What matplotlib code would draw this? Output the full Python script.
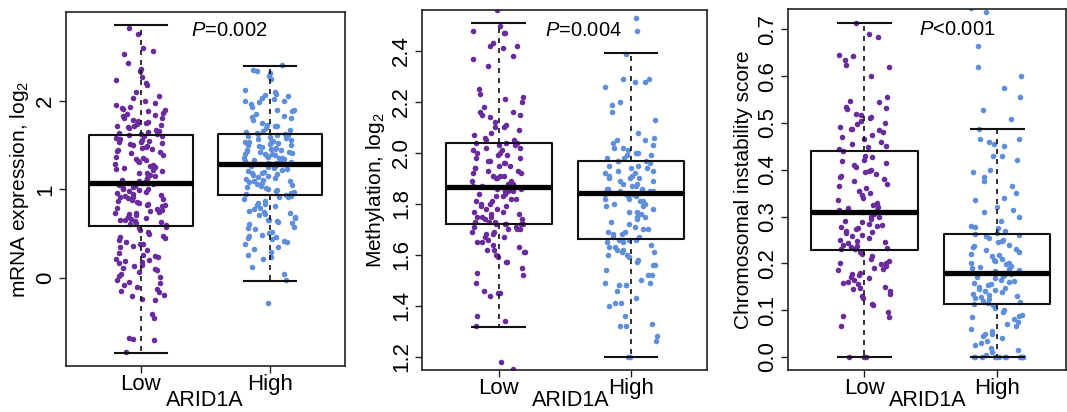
import numpy as np
import matplotlib
matplotlib.use("Agg")
import matplotlib.pyplot as plt

plt.rcParams["font.family"] = ["Liberation Sans", "DejaVu Sans"]
plt.rcParams["mathtext.fontset"] = "custom"
plt.rcParams["mathtext.rm"] = "Liberation Sans"
plt.rcParams["mathtext.it"] = "Liberation Sans:italic"

groups = ["Low", "High"]
xlabel = "ARID1A"

# ---- panel 1 : mRNA expression ----
mrna_low = [2.82, 2.75, 2.59, 2.56, 2.53, 2.42, 2.36, 2.33, 2.27, 2.23, 2.20, 2.18, 2.10, 2.05, 2.03, 2.00,
            1.97, 1.95, 1.93, 1.92, 1.91, 1.90, 1.88, 1.86, 1.85, 1.84, 1.83, 1.81, 1.80,
            1.78, 1.77, 1.76, 1.75, 1.74, 1.73, 1.72, 1.71, 1.70, 1.69, 1.67, 1.66, 1.65, 1.64, 1.63, 1.62,
            1.61, 1.60, 1.60, 1.58, 1.57, 1.56, 1.55, 1.54, 1.53, 1.52, 1.51, 1.50, 1.49, 1.48, 1.47, 1.46,
            1.45, 1.43, 1.42, 1.41, 1.39, 1.37, 1.36, 1.34, 1.33, 1.32, 1.31, 1.29, 1.27, 1.26, 1.25, 1.24,
            1.23, 1.22, 1.21, 1.19, 1.18, 1.16, 1.15, 1.13, 1.12, 1.11, 1.09, 1.08, 1.07, 1.06, 1.05, 1.04,
            1.03, 1.02, 1.01, 1.00, 0.99, 0.98, 0.97, 0.96, 0.95, 0.94, 0.93, 0.92, 0.91, 0.90, 0.89, 0.88,
            0.87, 0.86, 0.85, 0.84, 0.83, 0.82, 0.81, 0.79, 0.78, 0.77, 0.76, 0.75, 0.74, 0.73, 0.72, 0.71,
            0.69, 0.68, 0.67, 0.66, 0.65, 0.64, 0.63, 0.62, 0.61, 0.60, 0.58, 0.56, 0.54, 0.52, 0.50, 0.48,
            0.46, 0.45, 0.43, 0.41, 0.39, 0.38, 0.36, 0.35, 0.32, 0.28, 0.26, 0.25, 0.24, 0.22, 0.20, 0.19,
            0.18, 0.17, 0.15, 0.14, 0.12, 0.10, 0.09, 0.07, 0.05, 0.03, 0.01, -0.02, -0.04, -0.06, -0.08,
            -0.10, -0.12, -0.15, -0.16, -0.19, -0.20, -0.23, -0.25, -0.40, -0.45, -0.67, -0.69, -0.70, -0.83]
mrna_high = [2.40, 2.35, 2.33, 2.31, 2.28, 2.25, 2.12, 2.10, 2.08, 2.06, 2.05, 2.03, 2.02, 2.00, 2.00, 1.99,
             1.96, 1.93, 1.90, 1.89, 1.88, 1.85, 1.83, 1.82, 1.80, 1.78, 1.75, 1.73, 1.72, 1.71, 1.69, 1.67,
             1.66, 1.65, 1.64, 1.63, 1.62, 1.61, 1.61, 1.60, 1.59, 1.58, 1.57, 1.56, 1.55, 1.54, 1.53, 1.53,
             1.52, 1.51, 1.50, 1.50, 1.49, 1.48, 1.47, 1.46, 1.46, 1.45, 1.44, 1.43, 1.42, 1.42, 1.41, 1.40,
             1.40, 1.40, 1.39, 1.38, 1.37, 1.36, 1.35, 1.35, 1.34, 1.33, 1.32, 1.31, 1.31, 1.30, 1.30, 1.30,
             1.29, 1.28, 1.27, 1.26, 1.25, 1.24, 1.23, 1.22, 1.21, 1.20, 1.19, 1.18, 1.17, 1.16, 1.15, 1.14,
             1.13, 1.12, 1.11, 1.10, 1.09, 1.08, 1.07, 1.06, 1.05, 1.04, 1.03, 1.02, 1.01, 0.99, 0.98, 0.97,
             0.96, 0.95, 0.94, 0.93, 0.92, 0.91, 0.89, 0.87, 0.85, 0.84, 0.83, 0.81, 0.79, 0.78, 0.76, 0.75,
             0.74, 0.72, 0.71, 0.69, 0.68, 0.66, 0.65, 0.64, 0.63, 0.62, 0.61, 0.58, 0.57, 0.55, 0.52, 0.51,
             0.49, 0.47, 0.46, 0.45, 0.44, 0.42, 0.41, 0.38, 0.35, 0.33, 0.29, 0.26, 0.24, 0.22, 0.13, 0.05,
             -0.02, -0.28]
# box stats: whisker low, Q1, median, Q3, whisker high
mrna_box = [(-0.84, 0.587, 1.07, 1.617, 2.85), (-0.03, 0.94, 1.29, 1.625, 2.395)]

# ---- panel 2 : methylation ----
meth_low = [2.56, 2.50, 2.48, 2.47, 2.47, 2.43, 2.42, 2.42, 2.41, 2.38, 2.37, 2.34, 2.25, 2.23, 2.22, 2.21,
            2.20, 2.18, 2.16, 2.16, 2.15, 2.15, 2.14, 2.12, 2.11, 2.10, 2.10, 2.09, 2.08, 2.07, 2.06, 2.05,
            2.05, 2.04, 2.04, 2.04, 2.03, 2.03, 2.02, 2.02, 2.01, 2.01, 2.00, 2.00, 1.99, 1.99, 1.98, 1.98,
            1.97, 1.97, 1.96, 1.96, 1.95, 1.95, 1.94, 1.94, 1.93, 1.93, 1.92, 1.92, 1.91, 1.91, 1.91, 1.90,
            1.90, 1.89, 1.89, 1.88, 1.88, 1.87, 1.87, 1.87, 1.86, 1.86, 1.86, 1.85, 1.85, 1.85, 1.84, 1.84,
            1.83, 1.83, 1.82, 1.82, 1.81, 1.81, 1.80, 1.80, 1.79, 1.79, 1.78, 1.78, 1.77, 1.77, 1.76, 1.76,
            1.75, 1.75, 1.75, 1.74, 1.74, 1.73, 1.73, 1.73, 1.72, 1.72, 1.72, 1.72, 1.72, 1.71, 1.71, 1.70,
            1.70, 1.70, 1.69, 1.69, 1.68, 1.68, 1.67, 1.67, 1.66, 1.65, 1.65, 1.64, 1.63, 1.62, 1.62, 1.61,
            1.61, 1.60, 1.59, 1.57, 1.57, 1.55, 1.53, 1.52, 1.49, 1.46, 1.45, 1.45, 1.44, 1.36, 1.34, 1.32,
            1.18, 1.15]
meth_high = [2.53, 2.48, 2.39, 2.29, 2.29, 2.28, 2.28, 2.26, 2.20, 2.19, 2.16, 2.13, 2.08, 2.06, 2.05, 2.05,
             2.04, 2.03, 2.02, 2.02, 2.01, 2.00, 2.00, 1.99, 1.99, 1.98, 1.98, 1.97, 1.97, 1.97, 1.96, 1.95,
             1.95, 1.94, 1.94, 1.93, 1.93, 1.92, 1.92, 1.91, 1.91, 1.90, 1.90, 1.90, 1.89, 1.89, 1.88, 1.88,
             1.87, 1.87, 1.86, 1.86, 1.86, 1.85, 1.85, 1.85, 1.84, 1.84, 1.84, 1.83, 1.83, 1.82, 1.82, 1.81,
             1.81, 1.80, 1.80, 1.79, 1.79, 1.78, 1.77, 1.77, 1.76, 1.75, 1.75, 1.74, 1.73, 1.72, 1.71, 1.70,
             1.70, 1.69, 1.69, 1.68, 1.68, 1.67, 1.67, 1.66, 1.66, 1.66, 1.65, 1.65, 1.64, 1.63, 1.63, 1.62,
             1.62, 1.61, 1.61, 1.60, 1.60, 1.59, 1.58, 1.57, 1.56, 1.56, 1.54, 1.52, 1.52, 1.50, 1.49, 1.49,
             1.48, 1.48, 1.48, 1.46, 1.43, 1.41, 1.41, 1.40, 1.36, 1.33, 1.32, 1.32, 1.28, 1.26, 1.20, 1.20]
meth_box = [(1.318, 1.720, 1.867, 2.038, 2.51), (1.20, 1.661, 1.841, 1.968, 2.391)]

# ---- panel 3 : chromosomal instability ----
cin_low = [0.714, 0.69, 0.683, 0.645, 0.643, 0.634, 0.624, 0.62, 0.60, 0.555, 0.548, 0.545, 0.535, 0.532,
           0.53, 0.52, 0.518, 0.513, 0.51, 0.505, 0.50, 0.497, 0.492, 0.487, 0.487, 0.485, 0.48, 0.475, 0.47,
           0.465, 0.46, 0.455, 0.45, 0.448, 0.445, 0.44, 0.43, 0.428, 0.42, 0.418, 0.415, 0.41, 0.405, 0.40,
           0.398, 0.395, 0.39, 0.387, 0.385, 0.38, 0.375, 0.37, 0.365, 0.36, 0.355, 0.35, 0.345, 0.34, 0.335,
           0.33, 0.325, 0.32, 0.318, 0.315, 0.313, 0.31, 0.31, 0.308, 0.305, 0.30, 0.298, 0.295, 0.29, 0.288,
           0.285, 0.283, 0.28, 0.278, 0.275, 0.273, 0.27, 0.268, 0.265, 0.26, 0.258, 0.255, 0.25, 0.248, 0.245,
           0.243, 0.24, 0.238, 0.235, 0.233, 0.23, 0.23, 0.225, 0.22, 0.215, 0.21, 0.205, 0.20, 0.20, 0.198,
           0.195, 0.19, 0.188, 0.185, 0.18, 0.178, 0.175, 0.17, 0.168, 0.165, 0.16, 0.158, 0.155, 0.15, 0.148,
           0.145, 0.14, 0.135, 0.13, 0.125, 0.113, 0.11, 0.095, 0.088, 0.085, 0.067, 0.0, 0.0, 0.0]
cin_high = [0.745, 0.738, 0.665, 0.62, 0.60, 0.575, 0.555, 0.527, 0.508, 0.488, 0.465, 0.465, 0.46, 0.455,
            0.45, 0.43, 0.43, 0.42, 0.40, 0.395, 0.385, 0.375, 0.365, 0.35, 0.34, 0.335, 0.32, 0.315, 0.31,
            0.30, 0.29, 0.28, 0.278, 0.275, 0.27, 0.265, 0.263, 0.26, 0.258, 0.255, 0.25, 0.248, 0.245, 0.24,
            0.238, 0.235, 0.23, 0.228, 0.225, 0.22, 0.218, 0.215, 0.21, 0.208, 0.205, 0.20, 0.20, 0.198, 0.195,
            0.193, 0.19, 0.188, 0.185, 0.183, 0.18, 0.18, 0.178, 0.175, 0.173, 0.17, 0.168, 0.165, 0.163, 0.16,
            0.158, 0.155, 0.153, 0.15, 0.148, 0.145, 0.143, 0.14, 0.138, 0.135, 0.133, 0.13, 0.128, 0.125,
            0.123, 0.12, 0.118, 0.115, 0.113, 0.11, 0.105, 0.10, 0.095, 0.09, 0.088, 0.085, 0.08, 0.075, 0.07,
            0.065, 0.06, 0.055, 0.05, 0.048, 0.045, 0.04, 0.035, 0.03, 0.025, 0.02, 0.015, 0.01, 0.005,
            0.0, 0.0, 0.0, 0.0, 0.0, 0.0, 0.0, 0.0, 0.0, 0.0, 0.0, 0.0]
cin_box = [(0.0, 0.229, 0.310, 0.441, 0.7135), (0.0, 0.113, 0.179, 0.262, 0.488)]

panels = [
    dict(low=mrna_low, high=mrna_high, box=mrna_box, ylabel="mRNA expression, log$_\\mathregular{2}$",
         yticks=[0, 1, 2], yfmt="{:.0f}", ylim=(-0.99, 3.0), ptext="$\\mathit{P}$=0.002", pxy=(0.586, 0.949),
         rect=[66, 12, 345, 366], xlim=(0.419, 2.581), xlab_x=205),
    dict(low=meth_low, high=meth_high, box=meth_box, ylabel="Methylation, log$_\\mathregular{2}$",
         yticks=[1.2, 1.4, 1.6, 1.8, 2.0, 2.2, 2.4], yfmt="{:.1f}", ylim=(1.148, 2.561),
         ptext="$\\mathit{P}$=0.004", pxy=(0.568, 0.944), rect=[421.7, 10, 707.3, 370], xlim=(0.418, 2.577),
         xlab_x=571),
    dict(low=cin_low, high=cin_high, box=cin_box, ylabel="Chromosomal instability score",
         yticks=[0.0, 0.1, 0.2, 0.3, 0.4, 0.5, 0.6, 0.7], yfmt="{:.1f}", ylim=(-0.028, 0.743),
         ptext="$\\mathit{P}$<0.001", pxy=(0.61, 0.943), rect=[787.7, 9.3, 1066, 370], xlim=(0.421, 2.52),
         xlab_x=928),
]

colors = ["#6A2C9C", "#5F8FDA"]
W, H = 1067, 412


def jitter(n, amount=0.2):
    # deterministic hash spread, like stripchart(method="jitter")
    k = np.arange(n) + 1.0
    u = np.abs(np.sin(k * 12.9898 + 78.233) * 43758.5453) % 1
    return (u - 0.5) * 2 * amount


fig = plt.figure(figsize=(W / 100, H / 100), dpi=100)

for i, p in enumerate(panels):
    l, t, r, b = p["rect"]
    ax = fig.add_axes([l / W, 1 - b / H, (r - l) / W, (b - t) / H])

    for j, vals in enumerate([p["low"], p["high"]]):
        x = (j + 1) + jitter(len(vals) + 7 * i + 3 * j)[7 * i + 3 * j:]
        ax.scatter(x, vals, s=16, color=colors[j], linewidths=0, zorder=2)

    stats = []
    for lo, q1, med, q3, hi in p["box"]:
        stats.append(dict(whislo=lo, q1=q1, med=med, q3=q3, whishi=hi, fliers=[]))
    ax.bxp(stats, positions=[1, 2], widths=0.8, capwidths=0.4, showfliers=False,
           boxprops=dict(color="#111111", linewidth=1.5),
           medianprops=dict(color="#000000", linewidth=3.8, solid_capstyle="butt"),
           whiskerprops=dict(color="#111111", linewidth=1.2, linestyle=(0, (3, 3))),
           capprops=dict(color="#111111", linewidth=1.5), zorder=3)

    ax.set_xlim(*p["xlim"])
    ax.set_ylim(*p["ylim"])
    ax.set_xticks([1, 2])
    ax.set_xticklabels(groups, fontsize=16)
    ax.set_yticks(p["yticks"])
    ax.set_yticklabels([p["yfmt"].format(v) for v in p["yticks"]], fontsize=16,
                       rotation=90, va="center")
    ax.tick_params(length=5, width=1, color="#222222")
    ax.tick_params(axis="x", pad=1)
    ax.tick_params(axis="y", pad=2)
    for s in ax.spines.values():
        s.set_linewidth(1.2)
        s.set_color("#222222")
    ax.set_ylabel(p["ylabel"], fontsize=15, labelpad=3)
    fig.text(p["xlab_x"] / W, 1 - 401 / H, xlabel, ha="center", va="center", fontsize=15.5)
    ax.text(p["pxy"][0], p["pxy"][1], p["ptext"], transform=ax.transAxes,
            ha="center", va="center", fontsize=14.5, zorder=5)

fig.savefig("out.png", dpi=100)
